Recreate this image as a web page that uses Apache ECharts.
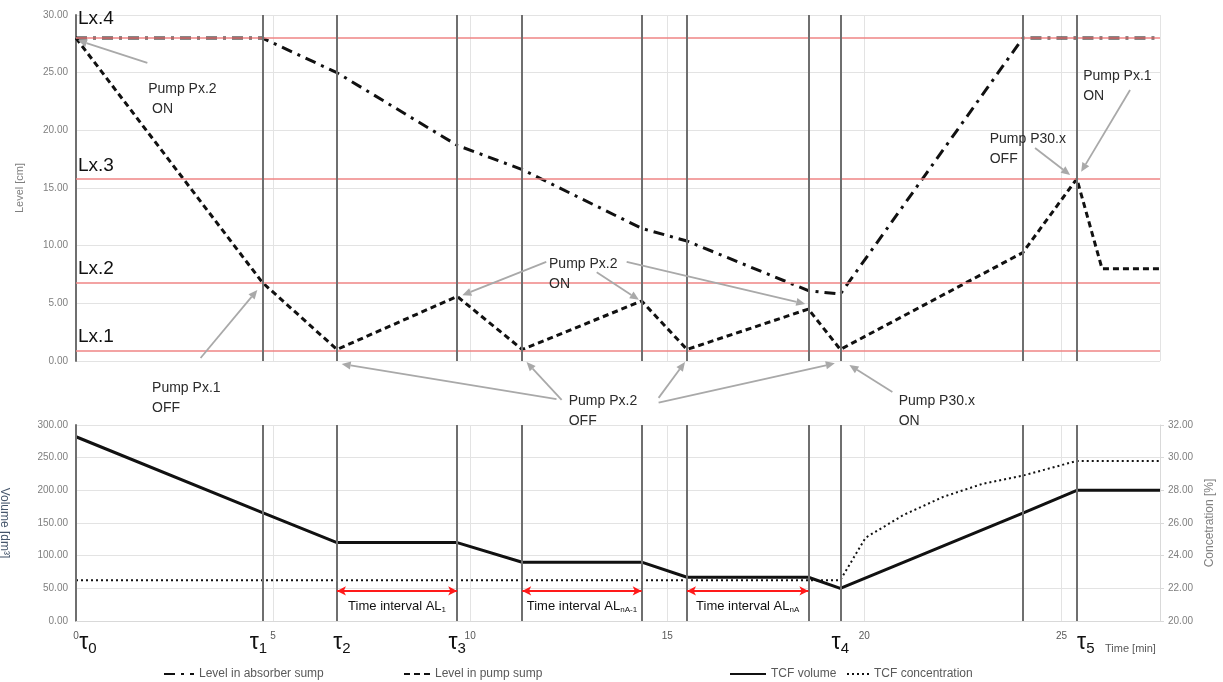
<!DOCTYPE html>
<html>
<head>
<meta charset="utf-8">
<script src="https://cdn.jsdelivr.net/npm/echarts@6/dist/echarts.min.js"></script>
<style>
  html, body { margin: 0; background: #fff; }
  #chart { width: 1223px; height: 682px; }
</style>
</head>
<body>
<div id="chart"></div>
<script>
// switching moments [min]
const tau = [0, 4.73, 6.62, 9.67, 11.32, 14.35, 15.5, 18.58, 19.39, 24.02, 25.39]
const tauLabelIdx = [0, 1, 2, 3, 8, 10]
const tauLabelShift = [12, -4, 5, 0, 0, 9]

// top chart: levels [cm]
const pumpTimes = [0, 4.73, 6.62, 9.67, 11.32, 14.35, 15.5, 18.58, 19.39, 24.02, 25.39, 26.03, 27.5]
const pumpLevel = [28, 6.8, 1, 5.6, 1, 5.2, 1, 4.5, 1, 9.4, 15.8, 8, 8]
const absorberTimes = [0, 4.73, 6.62, 9.67, 11.32, 14.35, 15.5, 18.58, 19.39, 24.02, 27.5]
const absorberLevel = [28, 28, 25, 18.7, 16.6, 11.5, 10.4, 6.1, 5.8, 28, 28]
const levelValues = [0.9, 6.8, 15.8, 28]
const levelNames = ['Lx.1', 'Lx.2', 'Lx.3', 'Lx.4']

// bottom chart: TCF volume [dm3] and concentration [%]
const volumeTimes = [0, 4.73, 6.62, 9.67, 11.32, 14.35, 15.5, 18.58, 19.39, 24.02, 25.39, 27.5]
const volume = [282, 166, 120, 120, 90, 90, 67, 67, 50, 165, 200, 200]
const concTimes = [0, 19.39, 20.03, 21, 22, 23, 24.02, 25.39, 27.5]
const conc = [22.5, 22.5, 25.1, 26.5, 27.6, 28.4, 28.9, 29.8, 29.8]

// time intervals between tau points
const intervals = [[6.62, 9.67, '1'], [11.32, 14.35, 'nA-1'], [15.5, 18.58, 'nA']]
const intervalLevel = 46

// annotations (top chart data coords)
const notes = [
  ['Pump Px.2\n ON', [1.83, 24.4]],
  ['Pump Px.1\nOFF', [1.93, -1.45]],
  ['Pump Px.2\nON', [12.0, 9.3]],
  ['Pump Px.2\nOFF', [12.5, -2.6]],
  ['Pump P30.x\nON', [20.87, -2.6]],
  ['Pump P30.x\nOFF', [23.18, 20.1]],
  ['Pump Px.1\nON', [25.55, 25.6]]
]
const arrows = [
  [[1.81, 25.85], [0.05, 27.8]],
  [[3.16, 0.26], [4.6, 6.16]],
  [[11.93, 8.6], [9.8, 5.7]],
  [[13.21, 7.7], [14.28, 5.3]],
  [[13.97, 8.6], [18.5, 4.95]],
  [[12.19, -3.3], [6.74, -0.26]],
  [[12.32, -3.38], [11.43, -0.09]],
  [[14.78, -3.2], [15.45, -0.09]],
  [[14.78, -3.6], [19.25, -0.2]],
  [[20.71, -2.69], [19.62, -0.35]],
  [[24.33, 18.47], [25.22, 16.13]],
  [[26.74, 23.5], [25.5, 16.4]]
]

const font = 'Liberation Sans'
const gray = '#7f7f7f'
const pairs = (xs, ys) => xs.map((x, i) => [x, ys[i]])

const chart = echarts.init(document.getElementById('chart'))

const tauLine = { color: '#6f6f6f', width: 2, type: 'solid' }

const option = {
  animation: false,
  textStyle: { fontFamily: font },
  grid: [
    { left: 76, right: 63, top: 15, height: 346, outerBoundsMode: 'none', containLabel: false },
    { left: 76, right: 63, top: 425, height: 196, outerBoundsMode: 'none', containLabel: false }
  ],
  xAxis: [
    {
      gridIndex: 0, type: 'value', min: 0, max: 27.5, interval: 5,
      axisLabel: { show: false }, axisTick: { show: false },
      axisLine: { show: false },
      splitLine: { lineStyle: { color: '#e3e3e3' } }
    },
    {
      gridIndex: 1, type: 'value', min: 0, max: 27.5, interval: 5,
      axisLabel: { fontSize: 10, color: '#595959', margin: 10, showMaxLabel: false },
      axisTick: { show: false },
      axisLine: { lineStyle: { color: '#d9d9d9' } },
      splitLine: { lineStyle: { color: '#e3e3e3' } }
    }
  ],
  yAxis: [
    {
      gridIndex: 0, type: 'value', min: 0, max: 30, interval: 5,
      name: 'Level [cm]', nameLocation: 'middle', nameGap: 51,
      nameTextStyle: { fontSize: 11, color: gray },
      axisLabel: { fontSize: 10, color: gray, formatter: v => v.toFixed(2) },
      axisLine: { show: true, lineStyle: { color: '#6f6f6f', width: 2 } },
      axisTick: { show: false },
      splitLine: { lineStyle: { color: '#e3e3e3' } }
    },
    {
      gridIndex: 1, type: 'value', min: 0, max: 300, interval: 50,
      name: 'Volume [dm³]', nameLocation: 'middle', nameGap: 66, nameRotate: -90,
      nameTextStyle: { fontSize: 12, color: '#44546a' },
      axisLabel: { fontSize: 10, color: gray, formatter: v => v.toFixed(2) },
      axisLine: { show: true, lineStyle: { color: '#6f6f6f', width: 2 } },
      axisTick: { show: false },
      splitLine: { lineStyle: { color: '#e3e3e3' } }
    },
    {
      gridIndex: 1, type: 'value', position: 'right', min: 20, max: 32, interval: 2,
      name: 'Concetration [%]', nameLocation: 'middle', nameGap: 44, nameRotate: 90,
      nameTextStyle: { fontSize: 12, color: gray },
      axisLabel: { fontSize: 10, color: gray, margin: 8, formatter: v => v.toFixed(2) },
      axisLine: { show: true, lineStyle: { color: '#d9d9d9' } },
      axisTick: { show: true, length: 4, lineStyle: { color: '#d9d9d9' } },
      splitLine: { show: false }
    }
  ],
  legend: [
    ['Level in absorber sump', 158, 30],
    ['Level in pump sump', 398, 26],
    ['TCF volume', 724, 36],
    ['TCF concentration', 841, 22]
  ].map(([name, left, w]) => ({
    data: [name], left, top: 663, itemWidth: w, itemHeight: 12, itemGap: 2,
    itemStyle: { opacity: 0 },
    textStyle: { fontSize: 12, color: '#595959', fontFamily: font }
  })),
  series: [
    {
      // reference levels Lx.1..Lx.4 drawn beneath the curves
      name: 'levels', type: 'line', xAxisIndex: 0, yAxisIndex: 0, data: [], z: 1,
      markLine: {
        silent: true, symbol: ['none', 'none'], animation: false,
        data: levelValues.map((v, i) => ({
          yAxis: v,
          lineStyle: { color: '#ef8585', width: 1.5, type: 'solid' },
          label: {
            show: true, position: 'insideStartTop', formatter: levelNames[i],
            fontSize: 19, color: '#111', distance: [2, i === 3 ? 10 : 4], fontFamily: font
          }
        }))
      }
    },
    {
      name: 'Level in absorber sump', type: 'line', xAxisIndex: 0, yAxisIndex: 0,
      data: pairs(absorberTimes, absorberLevel), symbol: 'none', z: 4,
      lineStyle: { color: '#111', width: 3, type: [11, 6, 3, 6] },
      itemStyle: { color: '#111' }
    },
    {
      name: 'Level in pump sump', type: 'line', xAxisIndex: 0, yAxisIndex: 0,
      data: pairs(pumpTimes, pumpLevel), symbol: 'none', z: 4,
      lineStyle: { color: '#111', width: 3, type: [6, 4] },
      itemStyle: { color: '#111' },
      markLine: {
        silent: true, symbol: ['none', 'none'], animation: false,
        data: tau.slice(1).map(t => ({ xAxis: t, lineStyle: tauLine, label: { show: false } }))
      }
    },
    {
      name: 'TCF volume', type: 'line', xAxisIndex: 1, yAxisIndex: 1,
      data: pairs(volumeTimes, volume), symbol: 'none', z: 4,
      lineStyle: { color: '#111', width: 3 },
      itemStyle: { color: '#111' },
      markLine: {
        silent: true, symbol: ['none', 'none'], animation: false,
        data: [
          ...tau.map((t, i) => {
            const k = tauLabelIdx.indexOf(i)
            return {
              xAxis: t, lineStyle: tauLine,
              label: k < 0 ? { show: false } : {
                show: true, position: 'start', distance: 8, offset: [tauLabelShift[k], 0],
                formatter: '{t|τ}{s|' + k + '}',
                rich: {
                  t: { fontSize: 23, color: '#111', fontFamily: font },
                  s: { fontSize: 15, color: '#111', fontFamily: font, padding: [12, 0, 0, 0] }
                }
              }
            }
          }),
          ...intervals.map(([a, b, sub]) => [
            {
              coord: [a, intervalLevel], symbol: 'arrow', symbolSize: [7, 9],
              lineStyle: { color: '#ff1a1a', width: 2, type: 'solid' },
              label: {
                show: true, position: 'insideMiddleBottom', distance: 7,
                formatter: 'Time interval AL{s|' + sub + '}',
                fontSize: 13, color: '#111', fontFamily: font,
                rich: { s: { fontSize: 8, color: '#111', fontFamily: font, padding: [8, 0, 0, 0] } }
              }
            },
            { coord: [b, intervalLevel], symbol: 'arrow', symbolSize: [7, 9] }
          ])
        ]
      }
    },
    {
      name: 'TCF concentration', type: 'line', xAxisIndex: 1, yAxisIndex: 2,
      data: pairs(concTimes, conc), symbol: 'none', z: 3,
      lineStyle: { color: '#111', width: 2, type: [2, 3] },
      itemStyle: { color: '#111' }
    }
  ]
}

chart.setOption(option)

// annotations: text + grey arrows, positioned through the top chart's scales
const toPx = p => chart.convertToPixel({ gridIndex: 0 }, p)
const graphics = []
notes.forEach(([text, at]) => {
  const p = toPx(at)
  graphics.push({
    type: 'text', x: p[0], y: p[1], silent: true, z: 20,
    style: { text, fontSize: 14, fontFamily: font, fill: '#2b2b2b', lineHeight: 20 }
  })
})
arrows.forEach(([tail, tip]) => {
  const a = toPx(tail), b = toPx(tip)
  const ang = Math.atan2(b[1] - a[1], b[0] - a[0])
  const L = 9, W = 4
  const base = [b[0] - L * Math.cos(ang), b[1] - L * Math.sin(ang)]
  graphics.push({
    type: 'line', silent: true, z: 20,
    shape: { x1: a[0], y1: a[1], x2: base[0], y2: base[1] },
    style: { stroke: '#a9a9a9', lineWidth: 1.8 }
  })
  graphics.push({
    type: 'polygon', silent: true, z: 20,
    shape: { points: [b,
      [base[0] + W * Math.sin(ang), base[1] - W * Math.cos(ang)],
      [base[0] - W * Math.sin(ang), base[1] + W * Math.cos(ang)]] },
    style: { fill: '#a9a9a9' }
  })
})
graphics.push({
  type: 'text', left: 1105, top: 643, silent: true,
  style: { text: 'Time [min]', fontSize: 11, fontFamily: font, fill: '#595959' }
})
chart.setOption({ graphic: graphics })

window.addEventListener('resize', () => chart.resize())
</script>
</body>
</html>
